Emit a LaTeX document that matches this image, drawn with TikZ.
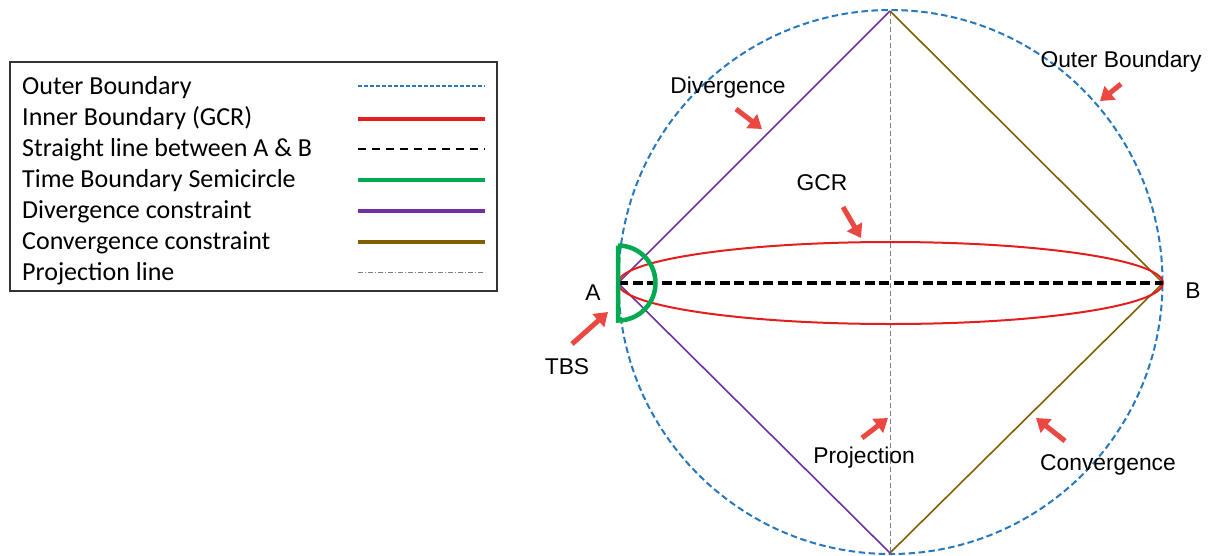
\documentclass[tikz,border=0pt]{standalone}
\usepackage{fontspec}
\setmainfont{Liberation Sans}
\newfontfamily\legfont{Carlito}
\usetikzlibrary{arrows.meta}
\definecolor{outerblue}{RGB}{40,120,190}
\definecolor{gcrred}{RGB}{228,30,30}
\definecolor{tbsgreen}{RGB}{0,170,80}
\definecolor{divpurple}{RGB}{112,48,160}
\definecolor{convolive}{RGB}{128,96,0}
\definecolor{projgray}{RGB}{125,125,125}
\definecolor{arrowred}{RGB}{235,72,66}
\begin{document}
\begin{tikzpicture}[x=1pt,y=-1pt,
 outerline/.style={outerblue, line width=2pt, dash pattern=on 6.5pt off 3.5pt},
 gcrline/.style={gcrred, line width=2pt},
 abline/.style={black, line width=3.3pt, dash pattern=on 10pt off 4.5pt},
 tbsline/.style={tbsgreen, line width=4.5pt},
 divline/.style={divpurple, line width=1.6pt},
 convline/.style={convolive, line width=1.6pt},
 projline/.style={projgray, line width=1pt, dash pattern=on 5pt off 3pt},
 projleg/.style={projgray, line width=0.9pt, dash pattern=on 5pt off 2pt on 1pt off 2pt},
 legtext/.style={anchor=base west, inner sep=0pt, text=black, font=\legfont\fontsize{26}{30}\selectfont},
 lbl/.style={anchor=base, inner sep=0pt, text=black, font=\fontsize{22.8}{27}\selectfont},
 callout/.style={arrowred, line width=5pt, -{Triangle[length=13pt,width=17pt]}}
]
\useasboundingbox (0,0) rectangle (1208,555);

% ---------- legend ----------
\draw[black!80, line width=1.4pt] (10,62) rectangle (497,291);
\node[legtext] (l1) at (22,94)  {Outer Boundary};
\node[legtext] (l2) at (22,125) {Inner Boundary (GCR)};
\node[legtext] (l3) at (22,156) {Straight line between A \& B};
\node[legtext] (l4) at (22,187) {Time Boundary Semicircle};
\node[legtext] (l5) at (22,218) {Divergence constraint};
\node[legtext] (l6) at (22,249) {Convergence constraint};
\node[legtext] (l7) at (22,280) {Projection line};
\coordinate (s1) at (358,86);  \coordinate (e1) at (485,86);
\coordinate (s2) at (358,119); \coordinate (e2) at (485,119);
\coordinate (s3) at (358,149); \coordinate (e3) at (485,149);
\coordinate (s4) at (358,180); \coordinate (e4) at (485,180);
\coordinate (s5) at (358,211); \coordinate (e5) at (485,211);
\coordinate (s6) at (358,242); \coordinate (e6) at (485,242);
\coordinate (s7) at (358,272); \coordinate (e7) at (485,272);
\draw[outerline, line width=1.6pt, dash pattern=on 4pt off 2pt] (s1) -- (e1);
\draw[gcrred, line width=3.5pt] (s2) -- (e2);
\draw[black, line width=2pt, dash pattern=on 8pt off 6pt] (s3) -- (e3);
\draw[tbsgreen, line width=3.5pt] (s4) -- (e4);
\draw[divpurple, line width=3.5pt] (s5) -- (e5);
\draw[convolive, line width=3.5pt] (s6) -- (e6);
\draw[projleg] (s7) -- (e7);

% ---------- main figure ----------
\coordinate (O) at (890.5,282);
\coordinate (A) at (618,283);
\coordinate (B) at (1163,283);
\coordinate (T) at (890,11);
\coordinate (D) at (890,553);

\draw[outerline] (O) circle[radius=272pt];
\draw[projline] (T) -- (D);
\draw[divline] (A) -- (T);
\draw[divline] (A) -- (D);
\draw[convline] (T) -- (B);
\draw[convline] (D) -- (B);
\draw[gcrline] (890.5,283) ellipse[x radius=272.5pt, y radius=41pt];
\draw[abline] (A) -- (B);
\draw[tbsline] ([yshift=37.5pt]A) -- ([yshift=-37.5pt]A) arc[start angle=-90, end angle=90, radius=37.5pt];

% labels
\node[lbl] (tA) at (593,300) {A};
\node[lbl] (tB) at (1193,298) {B};
\node[lbl] (tTBS) at (567,374) {TBS};
\node[lbl] (tDiv) at (728,93) {Divergence};
\node[lbl] (tGCR) at (822,190) {GCR};
\node[lbl] (tOut) at (1121,67) {Outer Boundary};
\node[lbl] (tProj) at (864,463) {Projection};
\node[lbl] (tConv) at (1108,470) {Convergence};

% callout arrows
\coordinate (a1s) at (736,109);  \coordinate (a1e) at (762,129);
\coordinate (a2s) at (843,207);  \coordinate (a2e) at (861,238);
\coordinate (a3s) at (1121,84);  \coordinate (a3e) at (1100,101);
\coordinate (a4s) at (862,438);  \coordinate (a4e) at (888,418);
\coordinate (a5s) at (1065,441); \coordinate (a5e) at (1036,418);
\coordinate (a6s) at (572,344);  \coordinate (a6e) at (608,312);
\draw[callout] (a1s) -- (a1e);
\draw[callout] (a2s) -- (a2e);
\draw[callout] (a3s) -- (a3e);
\draw[callout] (a4s) -- (a4e);
\draw[callout] (a5s) -- (a5e);
\draw[callout] (a6s) -- (a6e);
\end{tikzpicture}
\end{document}
